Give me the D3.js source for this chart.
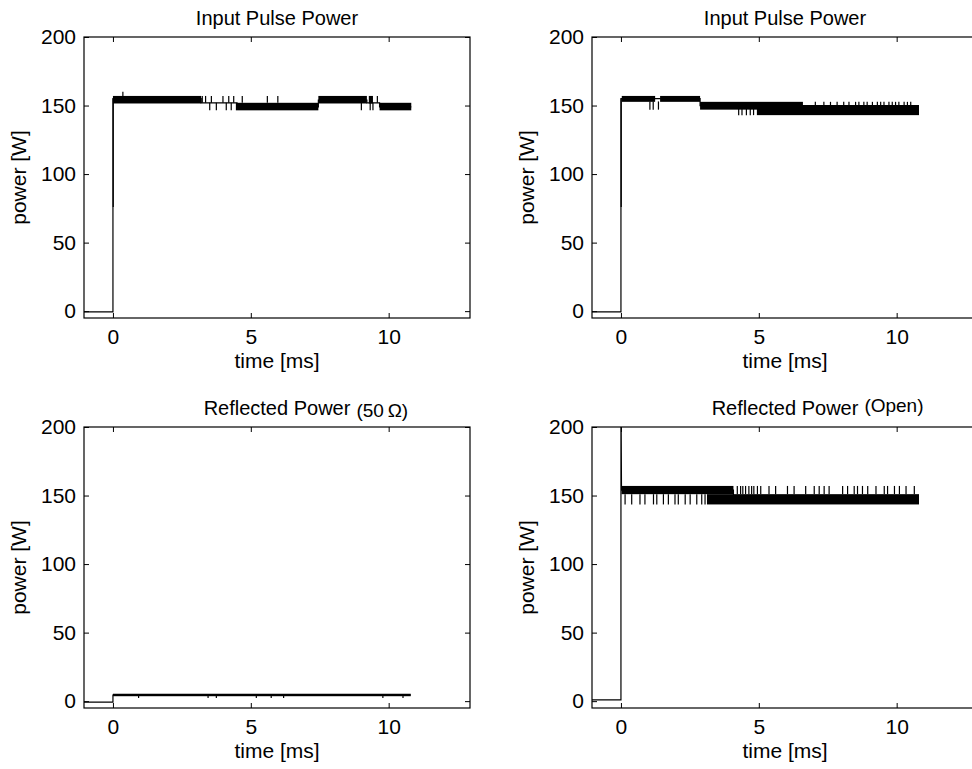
<!DOCTYPE html>
<html>
<head>
<meta charset="utf-8">
<script src="https://cdn.jsdelivr.net/npm/d3@7/dist/d3.min.js"></script>
<style>
  body { margin: 0; background: #fff; }
  text { font-family: "Liberation Sans", Arial, Helvetica, sans-serif; fill: #000; }
</style>
</head>
<body>
<div class="container"></div>
<script>
var width = 972;
var height = 769;

// shared axis settings (all four panels use the same limits)
var xDomain = [-1.05, 12.95];
var yDomain = [-5, 200];
var xTicks = [0, 5, 10];
var yTicks = [0, 50, 100, 150, 200];

// Input pulse power, left run: [time ms, power W]
var inTraceA = [[-1.1, -0.5], [0, -0.5], [0, 155], [3.2, 155], [3.2, 152], [4.5, 152], [4.5, 149],
  [7.45, 149], [7.45, 154], [9.21, 154], [9.21, 152], [9.67, 152], [9.67, 149], [10.82, 149]];
// noise bands [t0, t1, low, high]
var inBandsA = [[0, 3.2, 151.5, 157], [4.5, 7.45, 146.5, 152], [7.45, 9.21, 151.5, 157],
  [9.28, 9.43, 151.5, 157], [9.67, 10.82, 146.5, 152]];
// single glitches [t, low, high]
var inTicksA = [[0.01, 76, 155], [0.36, 152, 160],
  [3.24, 152, 157], [3.36, 152, 157], [3.57, 152, 157], [3.99, 152, 157], [4.2, 152, 157],
  [4.38, 152, 157], [4.69, 152, 157], [5.6, 152, 157], [5.98, 152, 157], [9.59, 152, 157],
  [3.51, 146.5, 152], [3.75, 146.5, 152], [4.11, 146.5, 152], [4.29, 146.5, 152], [4.48, 146.5, 152],
  [9.01, 146.5, 152], [9.33, 146.5, 152], [9.43, 146.5, 152]];

// Input pulse power, right run
var inTraceB = [[-1.1, -0.5], [0, -0.5], [0, 155], [2.87, 155], [2.87, 150], [10.81, 150]];
var inBandsB = [[0.03, 1.24, 152.7, 157], [1.42, 2.87, 152.7, 157], [2.87, 6.6, 147, 152.7],
  [4.93, 10.81, 143, 150]];
var inTicksB = [[0.01, 76, 155], [1.05, 147, 153], [1.17, 147, 153], [1.36, 147, 153],
  [4.27, 143, 148], [4.39, 143, 148], [4.55, 143, 148], [4.69, 143, 148], [4.81, 143, 148],
  [7.05, 149, 152.7], [7.36, 149, 152.7], [7.6, 149, 152.7], [7.84, 149, 152.7], [8.08, 149, 152.7],
  [8.27, 149, 152.7], [8.51, 149, 152.7], [8.63, 149, 152.7], [8.81, 149, 152.7], [8.93, 149, 152.7],
  [9.12, 149, 152.7], [9.3, 149, 152.7], [9.42, 149, 152.7], [9.54, 149, 152.7], [9.72, 149, 152.7],
  [9.84, 149, 152.7], [9.96, 149, 152.7], [10.08, 149, 152.7], [10.27, 149, 152.7],
  [10.39, 149, 152.7], [10.51, 149, 152.7]];

// Reflected power, 50 ohm load
var refTraceA = [[-1.1, -0.7], [0, -0.7], [0, 4.5], [10.8, 4.5]];
var refBandsA = [[0, 10.8, 3.6, 5.4]];
var refTicksA = [[0.93, 2.3, 4.5], [3.45, 2.3, 4.5], [3.75, 2.3, 4.5], [5.2, 2.3, 4.5],
  [5.74, 2.3, 4.5], [6.19, 2.3, 4.5], [9.79, 2.3, 4.5], [10.52, 2.3, 4.5]];

// Reflected power, open end
var refTraceB = [[-1.1, 1], [0, 1], [0, 230], [0.02, 154], [4.08, 154], [4.08, 148], [10.81, 148]];
var refBandsB = [[0.02, 4.08, 151, 157], [3.12, 10.81, 143.5, 151]];
var refTicksB = [[0.15, 143.5, 151], [0.39, 143.5, 151], [0.69, 143.5, 151], [0.87, 143.5, 151],
  [1.18, 143.5, 151], [1.3, 143.5, 151], [1.54, 143.5, 151], [1.72, 143.5, 151], [1.96, 143.5, 151],
  [2.08, 143.5, 151], [2.33, 143.5, 151], [2.51, 143.5, 151], [2.75, 143.5, 151], [2.93, 143.5, 151],
  [3.05, 143.5, 151],
  [4.22, 151, 157], [4.34, 151, 157], [4.42, 151, 157], [4.52, 151, 157], [4.64, 151, 157],
  [4.74, 151, 157], [4.82, 151, 157], [4.95, 151, 157], [5.07, 151, 157], [5.37, 151, 157],
  [5.61, 151, 157], [6.04, 151, 157], [6.28, 151, 157], [6.7, 151, 157], [7.01, 151, 157],
  [7.19, 151, 157], [7.37, 151, 157], [7.55, 151, 157], [8.04, 151, 157], [8.22, 151, 157],
  [8.46, 151, 157], [8.58, 151, 157], [8.76, 151, 157], [8.95, 151, 157], [9.25, 151, 157],
  [9.55, 151, 157], [9.67, 151, 157], [9.92, 151, 157], [10.1, 151, 157], [10.34, 151, 157],
  [10.64, 151, 157]];

var panelW = 386, panelH = 281;
var fontSize = 20;

var panels = [
  {title: "Input Pulse Power", note: null, x: 84, y: 37, trace: inTraceA, bands: inBandsA, ticks: inTicksA},
  {title: "Input Pulse Power", note: null, x: 592, y: 37, trace: inTraceB, bands: inBandsB, ticks: inTicksB},
  {title: "Reflected Power", note: "(50\u2009\u03A9)", noteDy: 2, x: 84, y: 427, trace: refTraceA, bands: refBandsA, ticks: refTicksA},
  {title: "Reflected Power", note: "(Open)", noteDy: -3, x: 592, y: 427, trace: refTraceB, bands: refBandsB, ticks: refTicksB}
];

var svg = d3.select(".container").append("svg")
  .attr("width", width)
  .attr("height", height);

panels.forEach(function (p, i) {
  var xScale = d3.scaleLinear().domain(xDomain).range([0, panelW]);
  var yScale = d3.scaleLinear().domain(yDomain).range([panelH, 0]);

  var g = svg.append("g").attr("transform", "translate(" + p.x + "," + p.y + ")");

  g.append("clipPath").attr("id", "clip" + i)
    .append("rect").attr("width", panelW).attr("height", panelH);

  var plot = g.append("g").attr("clip-path", "url(#clip" + i + ")");

  // noise bands
  plot.selectAll("rect.band").data(p.bands).enter().append("rect")
    .attr("class", "band")
    .attr("x", d => xScale(d[0]))
    .attr("width", d => xScale(d[1]) - xScale(d[0]))
    .attr("y", d => yScale(d[3]))
    .attr("height", d => yScale(d[2]) - yScale(d[3]))
    .attr("fill", "#000");

  // the trace itself
  var line = d3.line().x(d => xScale(d[0])).y(d => yScale(d[1]));
  plot.append("path")
    .datum(p.trace)
    .attr("d", line)
    .attr("fill", "none")
    .attr("stroke", "#000")
    .attr("stroke-width", 1.2);

  // single glitches
  plot.selectAll("line.glitch").data(p.ticks).enter().append("line")
    .attr("class", "glitch")
    .attr("x1", d => xScale(d[0])).attr("x2", d => xScale(d[0]))
    .attr("y1", d => yScale(d[1])).attr("y2", d => yScale(d[2]))
    .attr("stroke", "#000")
    .attr("stroke-width", 1.2);

  // axes, ticks pointing inward on all four sides
  var axB = g.append("g").attr("transform", "translate(0," + panelH + ")")
    .call(d3.axisBottom(xScale).tickValues(xTicks).tickSizeInner(-5).tickSizeOuter(0).tickPadding(11));
  var axT = g.append("g")
    .call(d3.axisTop(xScale).tickValues(xTicks).tickSizeInner(-5).tickSizeOuter(0).tickFormat(""));
  var axL = g.append("g")
    .call(d3.axisLeft(yScale).tickValues(yTicks).tickSizeInner(-5).tickSizeOuter(0).tickPadding(8));
  var axR = g.append("g").attr("transform", "translate(" + panelW + ",0)")
    .call(d3.axisRight(yScale).tickValues(yTicks).tickSizeInner(-5).tickSizeOuter(0).tickFormat(""));

  [axB, axT, axL, axR].forEach(function (ax) {
    ax.select(".domain").remove();
    ax.selectAll("line").attr("stroke", "#000");
    ax.selectAll("text")
      .style("font-size", "21px")
      .style("font-family", "'Liberation Sans', Arial, sans-serif")
      .attr("fill", "#000");
  });

  g.append("rect")
    .attr("width", panelW).attr("height", panelH)
    .attr("fill", "none").attr("stroke", "#000").attr("stroke-width", 1.2);

  // title
  var t = g.append("text")
    .attr("x", panelW / 2)
    .attr("y", -12)
    .style("text-anchor", "middle")
    .style("font-size", fontSize + "px")
    .text(p.title);
  if (p.note) {
    var half = t.node().getComputedTextLength() / 2;
    g.append("text")
      .attr("x", panelW / 2 + half + 6)
      .attr("y", -12 + p.noteDy)
      .style("font-size", "19px")
      .text(p.note);
  }

  // axis labels
  g.append("text")
    .attr("x", panelW / 2)
    .attr("y", panelH + 50)
    .style("text-anchor", "middle")
    .style("font-size", "21px")
    .text("time [ms]");

  g.append("text")
    .attr("transform", "translate(-58," + (panelH / 2) + ") rotate(-90)")
    .style("text-anchor", "middle")
    .style("font-size", "21px")
    .text("power [W]");
});
</script>
</body>
</html>
